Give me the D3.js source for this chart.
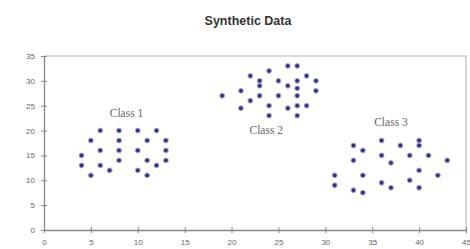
<!DOCTYPE html>
<html>
<head>
<meta charset="utf-8">
<script src="https://cdn.jsdelivr.net/npm/d3@7"></script>
<style>
  body { margin: 0; background: #fff; }
  svg { display: block; }
</style>
</head>
<body>
<svg id="chart" width="470" height="249"></svg>
<script>
// chart data
var title = "Synthetic Data";
var xTicks = [0, 5, 10, 15, 20, 25, 30, 35, 40, 45];
var yTicks = [0, 5, 10, 15, 20, 25, 30, 35];

var class1X = [4, 4, 5, 5, 6, 6, 6, 7, 8, 8, 8, 8, 10, 10, 10, 11, 11, 11, 12, 12, 13, 13, 13];
var class1Y = [15, 13, 18, 11, 20, 16, 13, 12, 20, 18, 16, 14, 20, 16, 12, 18, 14, 11, 20, 13, 18, 16, 14];

var class2X = [19, 21, 21, 22, 22, 23, 23, 23, 24, 24, 24, 25, 25, 26, 26, 26, 27, 27, 27, 27, 27, 27, 28, 28, 29, 29];
var class2Y = [27, 28, 24.5, 31, 26, 30, 29, 27, 32, 25, 23, 30, 27, 33, 29, 24.5, 33, 30, 28.5, 27, 25, 23, 31, 25, 30, 28];

var class3X = [31, 31, 33, 33, 33, 34, 34, 34, 36, 36, 36, 37, 37, 38, 39, 39, 40, 40, 40, 40, 41, 42, 43];
var class3Y = [11, 9, 17, 14, 8, 16, 11, 7.5, 18, 15, 9.5, 13.5, 8.5, 17, 15, 10, 18, 17, 12, 8.5, 15, 11, 14];

var classNames = ["Class 1", "Class 2", "Class 3"];
// label anchor points in data units
var labelX = [8.8, 23.7, 37.0];
var labelY = [22.7, 19.3, 20.9];

var svg = d3.select("#chart");

var x = d3.scaleLinear().domain([0, 45]).range([44, 466]);
var y = d3.scaleLinear().domain([0, 35]).range([230, 56]);

// title
svg.append("text")
  .attr("x", 248).attr("y", 25)
  .attr("text-anchor", "middle")
  .attr("font-family", "Liberation Sans, Arial, sans-serif")
  .attr("font-weight", "bold")
  .attr("font-size", "12.5px")
  .attr("fill", "#333")
  .text(title);

// plot frame (top + right)
svg.append("path")
  .attr("d", "M" + x(0) + "," + y(35) + "H" + x(45) + "V" + y(0))
  .attr("fill", "none")
  .attr("stroke", "#b8b8b8")
  .attr("stroke-width", 1.2);

// axes
var xAxis = d3.axisBottom(x).tickValues(xTicks).tickSizeInner(3).tickSizeOuter(0).tickPadding(6);
var yAxis = d3.axisLeft(y).tickValues(yTicks).tickSizeInner(3).tickSizeOuter(0).tickPadding(6);

var gx = svg.append("g").attr("transform", "translate(0," + y(0) + ")").call(xAxis);
var gy = svg.append("g").attr("transform", "translate(" + x(0) + ",0)").call(yAxis);

[gx, gy].forEach(function(g) {
  g.select(".domain").attr("stroke", "#888").attr("stroke-width", 1.3);
  g.selectAll(".tick line").attr("stroke", "#888");
  g.selectAll(".tick text")
    .attr("fill", "#666")
    .attr("font-family", "Liberation Sans, Arial, sans-serif")
    .attr("font-size", "8px");
});
// ticks crossing the axis line
gx.selectAll(".tick line").attr("y1", -3).attr("y2", 3);
gy.selectAll(".tick line").attr("x1", -3).attr("x2", 3);

// points
var allX = [class1X, class2X, class3X];
var allY = [class1Y, class2Y, class3Y];
allX.forEach(function(xs, k) {
  var pts = xs.map(function(v, i) { return [v, allY[k][i]]; });
  svg.append("g").selectAll("circle")
    .data(pts)
    .enter().append("circle")
    .attr("cx", function(d) { return x(d[0]); })
    .attr("cy", function(d) { return y(d[1]); })
    .attr("r", 2.4)
    .attr("fill", "#34347e")
    .attr("stroke", "#a3a3d4")
    .attr("stroke-width", 1);
});

// class labels
svg.append("g").selectAll("text")
  .data(classNames)
  .enter().append("text")
  .attr("x", function(d, i) { return x(labelX[i]); })
  .attr("y", function(d, i) { return y(labelY[i]); })
  .attr("text-anchor", "middle")
  .attr("font-family", "Liberation Serif, Times New Roman, serif")
  .attr("font-size", "11.5px")
  .attr("fill", "#666")
  .text(function(d) { return d; });
</script>
</body>
</html>
